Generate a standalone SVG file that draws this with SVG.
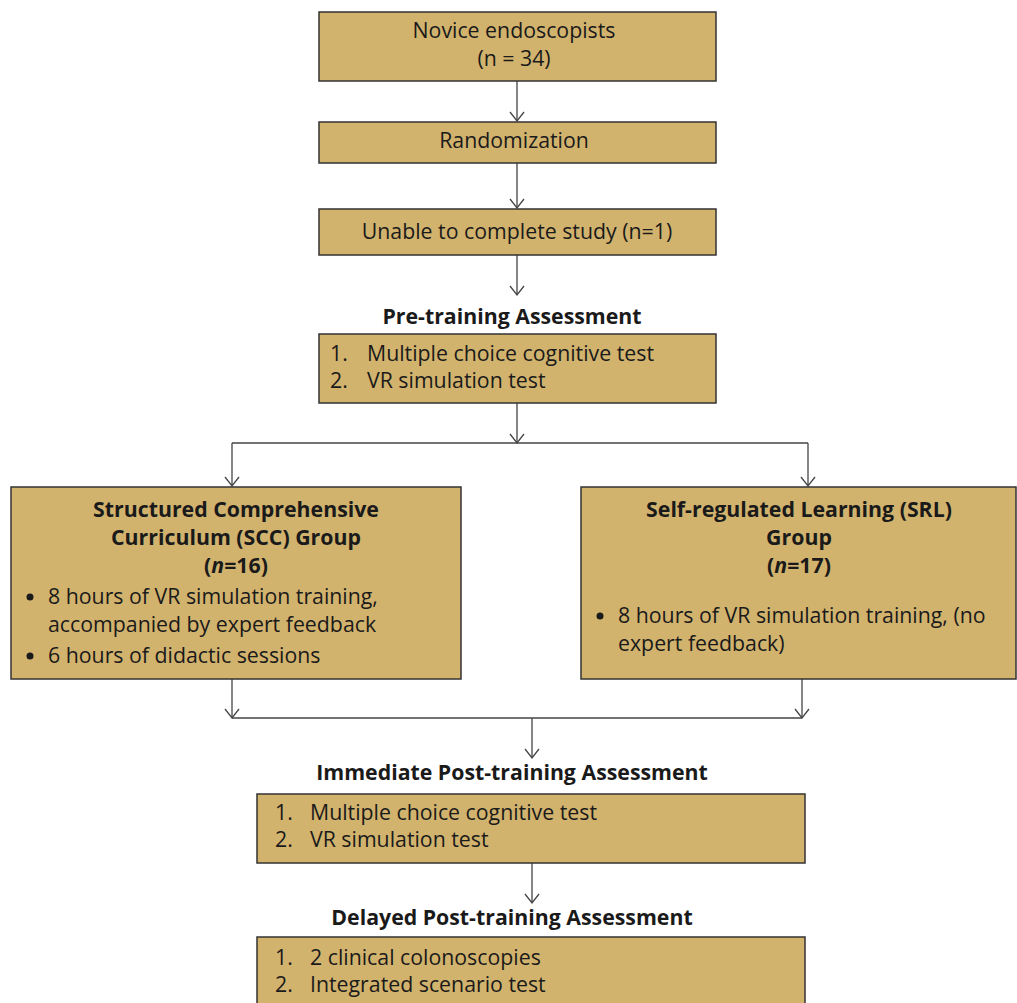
<svg xmlns="http://www.w3.org/2000/svg" width="1017" height="1003" viewBox="0 0 1017 1003">
<style>
.box{fill:#D2B36E;stroke:#333;stroke-width:1.5}
.t{font-family:"Open Sans","Noto Sans",sans-serif;font-size:21.3px;fill:#1a1a1a}
.c{text-anchor:middle}
.b{font-weight:bold}
.ln{fill:none;stroke:#444;stroke-width:1.3}
</style>
<defs>
<marker id="ar" markerUnits="userSpaceOnUse" markerWidth="20" markerHeight="20" refX="0" refY="0" viewBox="-12 -10 14 20" orient="auto" overflow="visible">
<path d="M-9,-7 L0,0 L-9,7" fill="none" stroke="#444" stroke-width="1.3"/>
</marker>
</defs>
<g id="connectors">
<line class="ln" x1="517" y1="81" x2="517" y2="121" marker-end="url(#ar)"/>
<line class="ln" x1="517" y1="163" x2="517" y2="208" marker-end="url(#ar)"/>
<line class="ln" x1="517" y1="255" x2="517" y2="295" marker-end="url(#ar)"/>
<line class="ln" x1="517" y1="403" x2="517" y2="443" marker-end="url(#ar)"/>
<line class="ln" x1="232" y1="443" x2="808" y2="443"/>
<line class="ln" x1="232" y1="443" x2="232" y2="486" marker-end="url(#ar)"/>
<line class="ln" x1="808" y1="443" x2="808" y2="486" marker-end="url(#ar)"/>
<line class="ln" x1="232" y1="679" x2="232" y2="718" marker-end="url(#ar)"/>
<line class="ln" x1="802" y1="679" x2="802" y2="718" marker-end="url(#ar)"/>
<line class="ln" x1="232" y1="718" x2="802" y2="718"/>
<line class="ln" x1="532" y1="718" x2="532" y2="758" marker-end="url(#ar)"/>
<line class="ln" x1="532" y1="863" x2="532" y2="903" marker-end="url(#ar)"/>
</g>
<g id="n1"><rect class="box" x="319" y="12" width="397" height="69"/>
<text class="t c" x="514" y="38">Novice endoscopists</text>
<text class="t c" x="514" y="66">(n = 34)</text></g>
<g id="n2"><rect class="box" x="319" y="122" width="397" height="41"/>
<text class="t c" x="514" y="148">Randomization</text></g>
<g id="n3"><rect class="box" x="319" y="209" width="397" height="46"/>
<text class="t c" x="517" y="239">Unable to complete study (n=1)</text></g>
<g id="n4"><text class="t c b" x="512" y="324">Pre-training Assessment</text>
<rect class="box" x="319" y="334" width="397" height="69"/>
<text class="t" x="330" y="361">1.</text><text class="t" x="367" y="361">Multiple choice cognitive test</text>
<text class="t" x="330" y="388">2.</text><text class="t" x="367" y="388">VR simulation test</text></g>
<g id="n5"><rect class="box" x="11" y="487" width="450" height="192"/>
<text class="t c b" x="236" y="517">Structured Comprehensive</text>
<text class="t c b" x="236" y="545">Curriculum (SCC) Group</text>
<text class="t c b" x="236" y="573">(<tspan font-style="italic">n</tspan>=16)</text>
<circle cx="30" cy="597" r="3.5" fill="#1a1a1a"/>
<text class="t" x="48" y="604">8 hours of VR simulation training,</text>
<text class="t" x="48" y="632">accompanied by expert feedback</text>
<circle cx="30" cy="656" r="3.5" fill="#1a1a1a"/>
<text class="t" x="48" y="663">6 hours of didactic sessions</text></g>
<g id="n6"><rect class="box" x="581" y="487" width="435" height="192"/>
<text class="t c b" x="799" y="517">Self-regulated Learning (SRL)</text>
<text class="t c b" x="799" y="545">Group</text>
<text class="t c b" x="799" y="573">(<tspan font-style="italic">n</tspan>=17)</text>
<circle cx="600" cy="616" r="3.5" fill="#1a1a1a"/>
<text class="t" x="618" y="623">8 hours of VR simulation training, (no</text>
<text class="t" x="618" y="651">expert feedback)</text></g>
<g id="n7"><text class="t c b" x="512" y="780">Immediate Post-training Assessment</text>
<rect class="box" x="257" y="794" width="548" height="69"/>
<text class="t" x="275" y="820">1.</text><text class="t" x="310" y="820">Multiple choice cognitive test</text>
<text class="t" x="275" y="847">2.</text><text class="t" x="310" y="847">VR simulation test</text></g>
<g id="n8"><text class="t c b" x="512" y="925">Delayed Post-training Assessment</text>
<rect class="box" x="257" y="937" width="548" height="70"/>
<text class="t" x="275" y="965">1.</text><text class="t" x="310" y="965">2 clinical colonoscopies</text>
<text class="t" x="275" y="992">2.</text><text class="t" x="310" y="992">Integrated scenario test</text></g>
</svg>
